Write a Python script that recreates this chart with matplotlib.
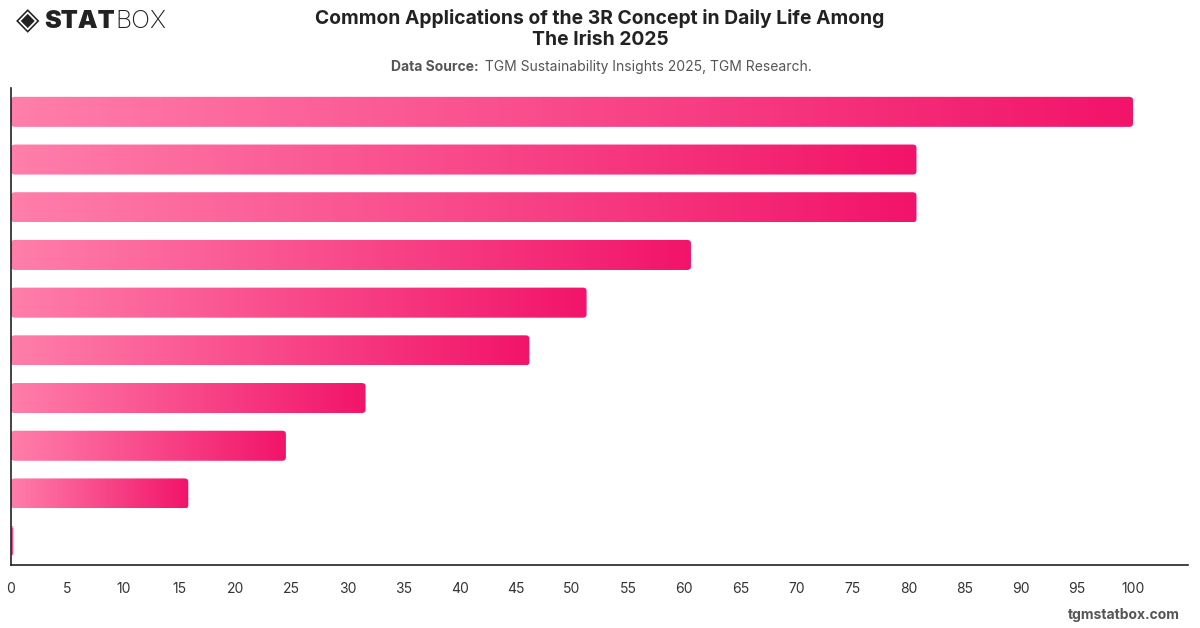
import numpy as np
import matplotlib
matplotlib.use('Agg')
import matplotlib.pyplot as plt
from matplotlib.colors import LinearSegmentedColormap
from matplotlib.patches import FancyBboxPatch

# values, top bar first
categories = ['A', 'B', 'C', 'D', 'E', 'F', 'G', 'H', 'I', 'J']
values = [100, 80.7, 80.7, 60.6, 51.3, 46.2, 31.6, 24.5, 15.8, 0.2]
xticks = list(range(0, 101, 5))

title = 'Common Applications of the 3R Concept in Daily Life Among\nThe Irish 2025'
source_bold = 'Data Source:'
source_text = ' TGM Sustainability Insights 2025, TGM Research.'

plt.rcParams['font.family'] = ['Inter', 'DejaVu Sans']

fig = plt.figure(figsize=(12, 6.28), dpi=100)
ax = fig.add_axes([11/1200, 1-565/628, (1188-11)/1200, (565-88)/628])

cmap = LinearSegmentedColormap.from_list('pink', ['#ff7eaa', '#f2146a'])
grad = np.linspace(0, 1, 256).reshape(1, -1)

ypos = np.arange(len(values))
bars = ax.barh(ypos, values, height=0.63, color='none', edgecolor='none')
for b in bars:
    x0, y0 = b.get_x(), b.get_y()
    w, h = b.get_width(), b.get_height()
    if w <= 0:
        continue
    clip = FancyBboxPatch((x0, y0), w, h, boxstyle='round,pad=0,rounding_size=0.35',
                          mutation_aspect=0.2,
                          transform=ax.transData, facecolor='none', edgecolor='none')
    ax.add_patch(clip)
    im = ax.imshow(grad, cmap=cmap, aspect='auto', extent=(x0, x0 + w, y0 + h, y0),
                   interpolation='bicubic', zorder=2)
    im.set_clip_path(clip)

ax.set_xlim(0, 104.9)
ax.set_ylim(len(values) - 0.5, -0.5)
ax.set_xticks(xticks)
ax.set_yticks([])
ax.tick_params(axis='x', length=0, pad=12, labelsize=10, labelcolor='#333333')
for s in ['top', 'right']:
    ax.spines[s].set_visible(False)
for s in ['left', 'bottom']:
    ax.spines[s].set_color('#222222')
    ax.spines[s].set_linewidth(1.2)

fig.text(0.5, 1-29/628, title, ha='center', va='center', fontsize=13.9,
         fontweight='bold', color='#222222', linespacing=1.2)

renderer = fig.canvas.get_renderer()

# data source line: bold part then normal part, centred together
t1 = fig.text(0, 1-67/628, source_bold, ha='left', va='center', fontsize=10,
              fontweight='bold', color='#555555')
t2 = fig.text(0, 1-67/628, source_text, ha='left', va='center', fontsize=10,
              color='#555555')
w1 = t1.get_window_extent(renderer).width
w2 = t2.get_window_extent(renderer).width
start = (1200 - w1 - w2) / 2
t1.set_x(start / 1200)
t2.set_x((start + w1 + 3) / 1200)

fig.text(1180/1200, 1-615/628, 'tgmstatbox.com', ha='right', va='center',
         fontsize=10, fontweight='bold', color='#555555')

# logo
fig.text(28/1200, 1-21/628, '\u25C8', ha='center', va='center', fontsize=22, color='#222222')
s1 = fig.text(44/1200, 1-21/628, 'STAT', ha='left', va='center', fontsize=18,
              fontweight='black', color='#222222')
ws = s1.get_window_extent(renderer).width
fig.text((44 + ws + 1)/1200, 1-21/628, 'BOX', ha='left', va='center', fontsize=18,
         fontweight='light', color='#222222')

fig.savefig('out.png', dpi=100)
